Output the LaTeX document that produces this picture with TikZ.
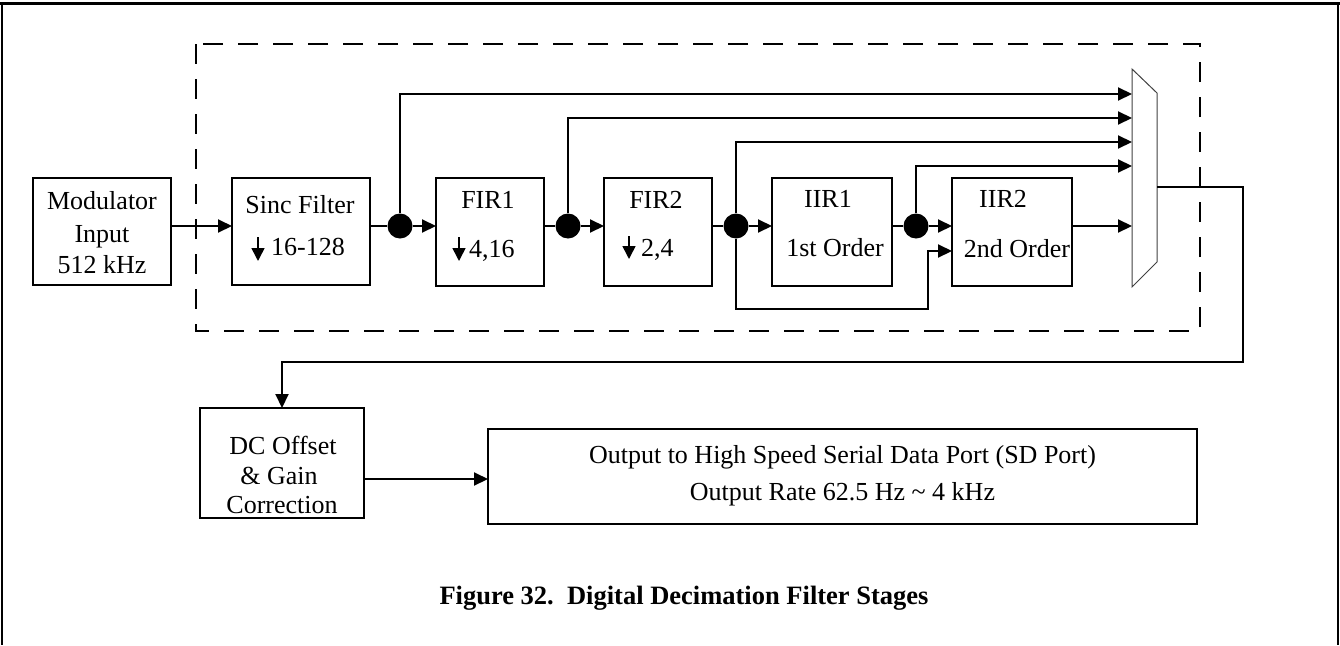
\documentclass[tikz,border=0pt]{standalone}
\usepackage{fontspec}
\setmainfont{Liberation Serif}
\usetikzlibrary{arrows.meta}
\tikzset{
  box/.style={draw,line width=2pt,inner sep=0pt,outer sep=0pt},
  lbl/.style={inner sep=0pt,font=\fontsize{26}{31}\selectfont},
  conn/.style={line width=2pt},
  arr/.style={conn,-{Triangle[length=14pt,width=13pt]}},
  dotn/.style={circle,fill=black,draw=none,inner sep=0pt,minimum size=25pt},
  dsym/.style={line width=1.6pt,-{Triangle[length=13pt,width=13pt]}},
  captxt/.style={inner sep=0pt,font=\fontsize{26.5}{31}\selectfont\bfseries}
}
\begin{document}
\begin{tikzpicture}[x=1pt,y=-1pt]
\useasboundingbox (0,0) rectangle (1340,645);
% frame
\draw[line width=3pt] (0,3.5) -- (1340,3.5);
\draw[line width=1.5pt] (2,3) -- (2,645);
\draw[line width=1.5pt] (1338,3) -- (1338,645);
% dashed enclosure
\draw[line width=2pt,dash pattern=on 20pt off 15pt] (196,44) rectangle (1200,331);
% boxes
\node[box,minimum width=138pt,minimum height=107pt] (mod) at (102,231.5) {};
\node[box,minimum width=138pt,minimum height=107pt] (sinc) at (301,231.5) {};
\node[box,minimum width=108pt,minimum height=108pt] (fir1) at (490,232) {};
\node[box,minimum width=108pt,minimum height=108pt] (fir2) at (658,232) {};
\node[box,minimum width=120pt,minimum height=108pt] (iir1) at (832,232) {};
\node[box,minimum width=120pt,minimum height=108pt] (iir2) at (1012,232) {};
\node[box,minimum width=164pt,minimum height=110pt] (dc) at (282,463) {};
\node[box,minimum width=709pt,minimum height=95pt] (out) at (842.5,476.5) {};
% texts
\node[lbl,anchor=base] (t1) at (102,209) {Modulator};
\node[lbl,anchor=base] (t2) at (102,242) {Input};
\node[lbl,anchor=base] (t3) at (102,273) {512 kHz};
\node[lbl,anchor=base] (t4) at (300,213) {Sinc Filter};
\node[lbl,anchor=base west] (t5) at (271,255) {16-128};
\node[lbl,anchor=base] (t6) at (488,208) {FIR1};
\node[lbl,anchor=base west] (t7) at (469,257) {4,16};
\node[lbl,anchor=base] (t8) at (656,208) {FIR2};
\node[lbl,anchor=base west] (t9) at (641,256) {2,4};
\node[lbl,anchor=base] (t10) at (828,207) {IIR1};
\node[lbl,anchor=base] (t11) at (835,256) {1st Order};
\node[lbl,anchor=base] (t12) at (1003,207) {IIR2};
\node[lbl,anchor=base] (t13) at (1017,257) {2nd Order};
\node[lbl,anchor=base] (t14) at (283,454) {DC Offset};
\node[lbl,anchor=base] (t15) at (279,484) {\& Gain};
\node[lbl,anchor=base] (t16) at (282,513) {Correction};
\node[lbl,anchor=base] (t17) at (842.5,463) {Output to High Speed Serial Data Port (SD Port)};
\node[lbl,anchor=base] (t18) at (842.5,500) {Output Rate 62.5 Hz \textasciitilde{} 4 kHz};
\node[captxt,anchor=base] (capt) at (684,604) {Figure 32.\ \ Digital Decimation Filter Stages};
% decimation arrows
\draw[dsym] (258,237) -- (258,261);
\draw[dsym] (459,237) -- (459,261);
\draw[dsym] (629,236) -- (629,259);
% multiplexer
\draw[line width=1pt,black!75] (1132,69) -- (1157,93) -- (1157,262) -- (1132,287) -- cycle;
\coordinate (m1) at (1132,94);
\coordinate (m2) at (1132,118);
\coordinate (m3) at (1132,142);
\coordinate (m4) at (1132,166);
\coordinate (m5) at (1132,226);
\coordinate (mo) at (1157,187);
% junction dots
\node[dotn] (d1) at (400,226) {};
\node[dotn] (d2) at (568,226) {};
\node[dotn] (d3) at (736,226) {};
\node[dotn] (d4) at (916,226) {};
% connectors
\draw[arr] (mod.east |- d1) -- (sinc.west |- d1);
\draw[conn] (sinc.east |- d1) -- (d1);
\draw[arr] (d1) -- (fir1.west |- d1);
\draw[arr] (d1) |- (m1);
\draw[conn] (fir1.east |- d2) -- (d2);
\draw[arr] (d2) -- (fir2.west |- d2);
\draw[arr] (d2) |- (m2);
\draw[conn] (fir2.east |- d3) -- (d3);
\draw[arr] (d3) -- (iir1.west |- d3);
\draw[arr] (d3) |- (m3);
\coordinate (lb) at (928,309);
\coordinate (i2b) at (952,251);
\draw[arr] (d3) |- (lb) |- (i2b);
\draw[conn] (iir1.east |- d4) -- (d4);
\draw[arr] (d4) -- (iir2.west |- d4);
\draw[arr] (d4) |- (m4);
\draw[arr] (iir2.east |- m5) -- (m5);
\coordinate (c1) at (1243,362);
\draw[arr] (mo) -| (c1) -| (dc.north);
\coordinate (dco) at (364,479);
\draw[arr] (dco) -- (out.west |- dco);
\end{tikzpicture}
\end{document}
